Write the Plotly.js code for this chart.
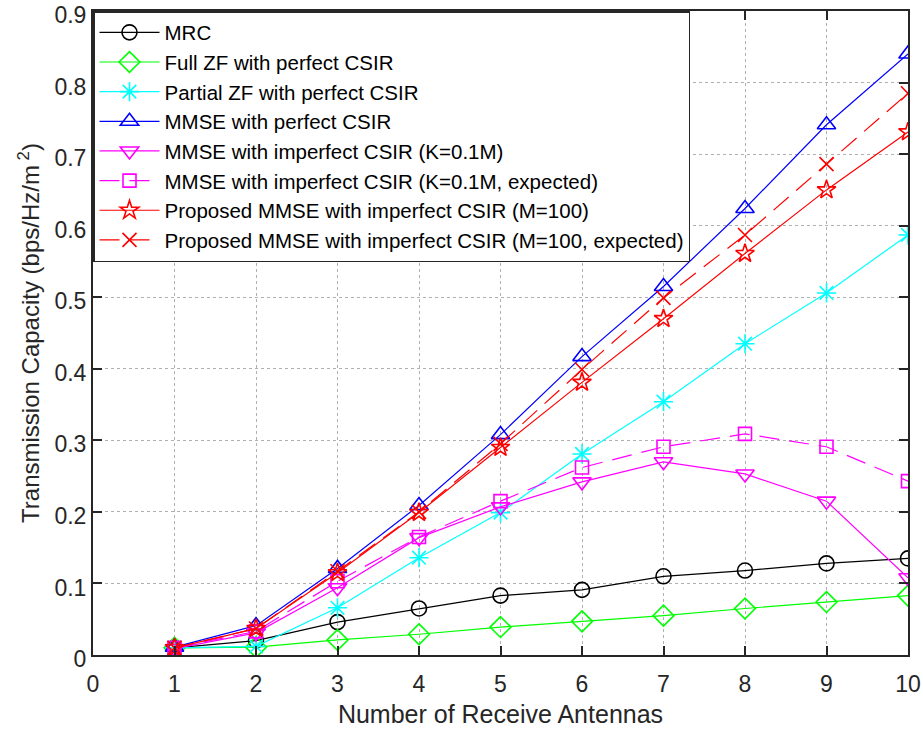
<!DOCTYPE html>
<html>
<head>
<meta charset="utf-8">
<script src="https://cdn.plot.ly/plotly-3.0.1.min.js"></script>
<style>html,body{margin:0;padding:0;background:#fff}#chart{width:923px;height:734px}</style>
</head>
<body>
<div id="chart"></div>
<script>
const antennas = [1, 2, 3, 4, 5, 6, 7, 8, 9, 10];
const mrc = [0.010, 0.020, 0.046, 0.065, 0.083, 0.091, 0.110, 0.118, 0.128, 0.135];
const fullZF = [0.010, 0.011, 0.021, 0.029, 0.039, 0.047, 0.055, 0.065, 0.074, 0.083];
const partialZF = [0.010, 0.012, 0.066, 0.136, 0.199, 0.281, 0.354, 0.435, 0.506, 0.587];
const mmsePerfect = [0.011, 0.041, 0.121, 0.209, 0.308, 0.417, 0.515, 0.624, 0.741, 0.840];
const mmseImperfect = [0.009, 0.031, 0.094, 0.164, 0.207, 0.242, 0.270, 0.253, 0.215, 0.108];
const mmseImperfectExp = [0.010, 0.033, 0.103, 0.165, 0.215, 0.262, 0.291, 0.309, 0.291, 0.243];
const proposed = [0.010, 0.037, 0.115, 0.199, 0.290, 0.381, 0.470, 0.561, 0.650, 0.731];
const proposedExp = [0.010, 0.037, 0.117, 0.200, 0.295, 0.399, 0.499, 0.587, 0.686, 0.785];
const names = [
  'MRC',
  'Full ZF with perfect CSIR',
  'Partial ZF with perfect CSIR',
  'MMSE with perfect CSIR',
  'MMSE with imperfect CSIR (K=0.1M)',
  'MMSE with imperfect CSIR (K=0.1M, expected)',
  'Proposed MMSE with imperfect CSIR (M=100)',
  'Proposed MMSE with imperfect CSIR (M=100, expected)'
];
const xTicks = [0, 1, 2, 3, 4, 5, 6, 7, 8, 9, 10];
const yTicks = [0, 0.1, 0.2, 0.3, 0.4, 0.5, 0.6, 0.7, 0.8, 0.9];
const yTickText = ['0', '0.1', '0.2', '0.3', '0.4', '0.5', '0.6', '0.7', '0.8', '0.9'];

const series = [mrc, fullZF, partialZF, mmsePerfect, mmseImperfect, mmseImperfectExp, proposed, proposedExp];
const colors = ['#000000', '#00ff00', '#00ffff', '#0000ff', '#ff00ff', '#ff00ff', '#ff0000', '#ff0000'];
const symbols = ['circle-open', 'diamond-open', 'asterisk-open', 'triangle-up-open', 'triangle-down-open', 'square-open', 'star-open', 'x-thin-open'];
const sizes = [15, 16, 16, 16, 16, 13, 14, 14];
const dashes = ['solid', 'solid', 'solid', 'solid', 'solid', '20px,10px', 'solid', '20px,10px'];

const traces = series.map((ys, i) => ({
  x: antennas, y: ys, name: names[i], type: 'scatter', mode: 'lines+markers',
  line: {color: colors[i], width: 1.2, dash: dashes[i]},
  marker: {symbol: symbols[i], size: sizes[i], color: colors[i], line: {color: colors[i], width: 1.6}}
}));

const font = 'Liberation Sans, Arial, Helvetica, sans-serif';
const axisCommon = {
  showline: true, linecolor: '#262626', linewidth: 2, mirror: 'ticks',
  ticks: 'inside', ticklen: 9, tickcolor: '#262626', tickwidth: 2,
  showgrid: true, gridcolor: '#b0b0b0', griddash: 'dot', gridwidth: 1,
  zeroline: false, ticklabeloverflow: 'allow',
  tickfont: {family: font, size: 23, color: '#262626'}
};

const layout = {
  width: 923, height: 734,
  margin: {l: 93, r: 15, t: 11, b: 79},
  paper_bgcolor: '#ffffff', plot_bgcolor: '#ffffff',
  showlegend: true,
  legend: {x: 0, y: 1, xanchor: 'left', yanchor: 'top', bgcolor: '#ffffff',
    bordercolor: '#262626', borderwidth: 1.5, font: {family: font, size: 20.5, color: '#000000'},
    tracegroupgap: 0, itemwidth: 60},
  xaxis: Object.assign({}, axisCommon, {range: [0, 10], tickvals: xTicks, ticktext: xTicks.map(String),
    ticklabelstandoff: 7,
    title: {text: 'Number of Receive Antennas', font: {family: font, size: 25, color: '#262626'}, standoff: 10}}),
  yaxis: Object.assign({}, axisCommon, {range: [0, 0.9], tickvals: yTicks, ticktext: yTickText,
    ticklabelshift: 4,
    title: {text: 'Transmission Capacity (bps/Hz/m<sup> 2</sup>)', font: {family: font, size: 24, color: '#262626'}, standoff: 8}})
};

Plotly.newPlot('chart', traces, layout, {displayModeBar: false, staticPlot: true});
</script>
</body>
</html>
